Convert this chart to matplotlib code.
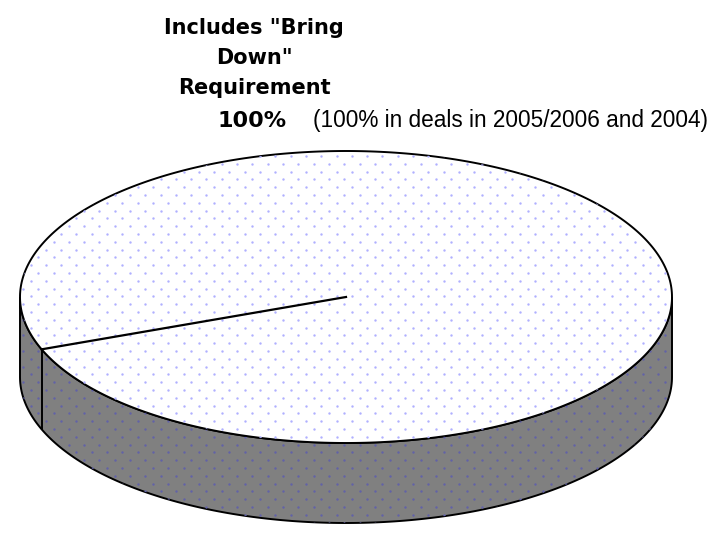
import numpy as np
import matplotlib
matplotlib.use("Agg")
from matplotlib import pyplot as plt
from matplotlib.patches import Polygon

# data
labels = ['Includes "Bring\nDown"\nRequirement']
values = [100]
note = "(100% in deals in 2005/2006 and 2004)"

start_angle = 201.0   # degrees, where the first slice edge sits

# geometry of the 3d pie, in pixels
cx, cy = 346, 297
a, b = 326, 146
depth = 80


def rim(t):
    t = np.radians(t)
    return cx + a * np.cos(t), cy - b * np.sin(t)


fig = plt.figure(figsize=(7.25, 5.36), dpi=100)
ax = fig.add_axes([0, 0, 1, 1])
ax.set_xlim(0, 725)
ax.set_ylim(536, 0)
ax.axis("off")

# side of the cake (front half only)
t = np.linspace(180, 360, 200)
xs, ys = rim(t)
side = np.vstack([np.column_stack([xs, ys]),
                  np.column_stack([xs[::-1], ys[::-1] + depth])])
side_patch = Polygon(side, closed=True, facecolor="#808080",
                     edgecolor="black", lw=1.4, zorder=1)
ax.add_patch(side_patch)

# top face
t = np.linspace(0, 360, 400)
xs, ys = rim(t)
top_patch = Polygon(np.column_stack([xs, ys]), closed=True,
                    facecolor="white", edgecolor="black", lw=1.4, zorder=2)
ax.add_patch(top_patch)

# dotted texture
gx, gy = np.meshgrid(np.arange(0, 725, 15.3), np.arange(0, 536, 7.8))
gx = gx + (np.arange(gx.shape[0])[:, None] % 2) * 7.6
for patch, col, z in [(side_patch, "#6262a8", 1.5), (top_patch, "#b0b0ff", 2.5)]:
    sc = ax.scatter(gx.ravel(), gy.ravel(), s=3, c=col, lw=0, zorder=z)
    sc.set_clip_path(patch)

# slice edges from the values
fracs = np.cumsum([0] + values) / float(sum(values))
for f in fracs[:-1]:
    ang = start_angle + 360 * f
    ex, ey = rim(ang)
    ax.plot([cx, ex], [cy, ey], color="black", lw=1.6, zorder=3)
    if np.sin(np.radians(ang)) < 0:
        ax.plot([ex, ex], [ey, ey + depth], color="black", lw=1.4, zorder=3)

# labels
ax.text(254, 58, labels[0], ha="center", va="center", fontsize=15,
        fontweight="bold", family="DejaVu Sans", linespacing=1.62)
ax.text(252, 121, "%d%%" % values[0], ha="center", va="center",
        fontsize=16, fontweight="bold", family="DejaVu Sans")
ax.text(313, 121, note, ha="left", va="center", fontsize=16.3,
        family="Liberation Sans")

fig.savefig("out.png", dpi=100)
